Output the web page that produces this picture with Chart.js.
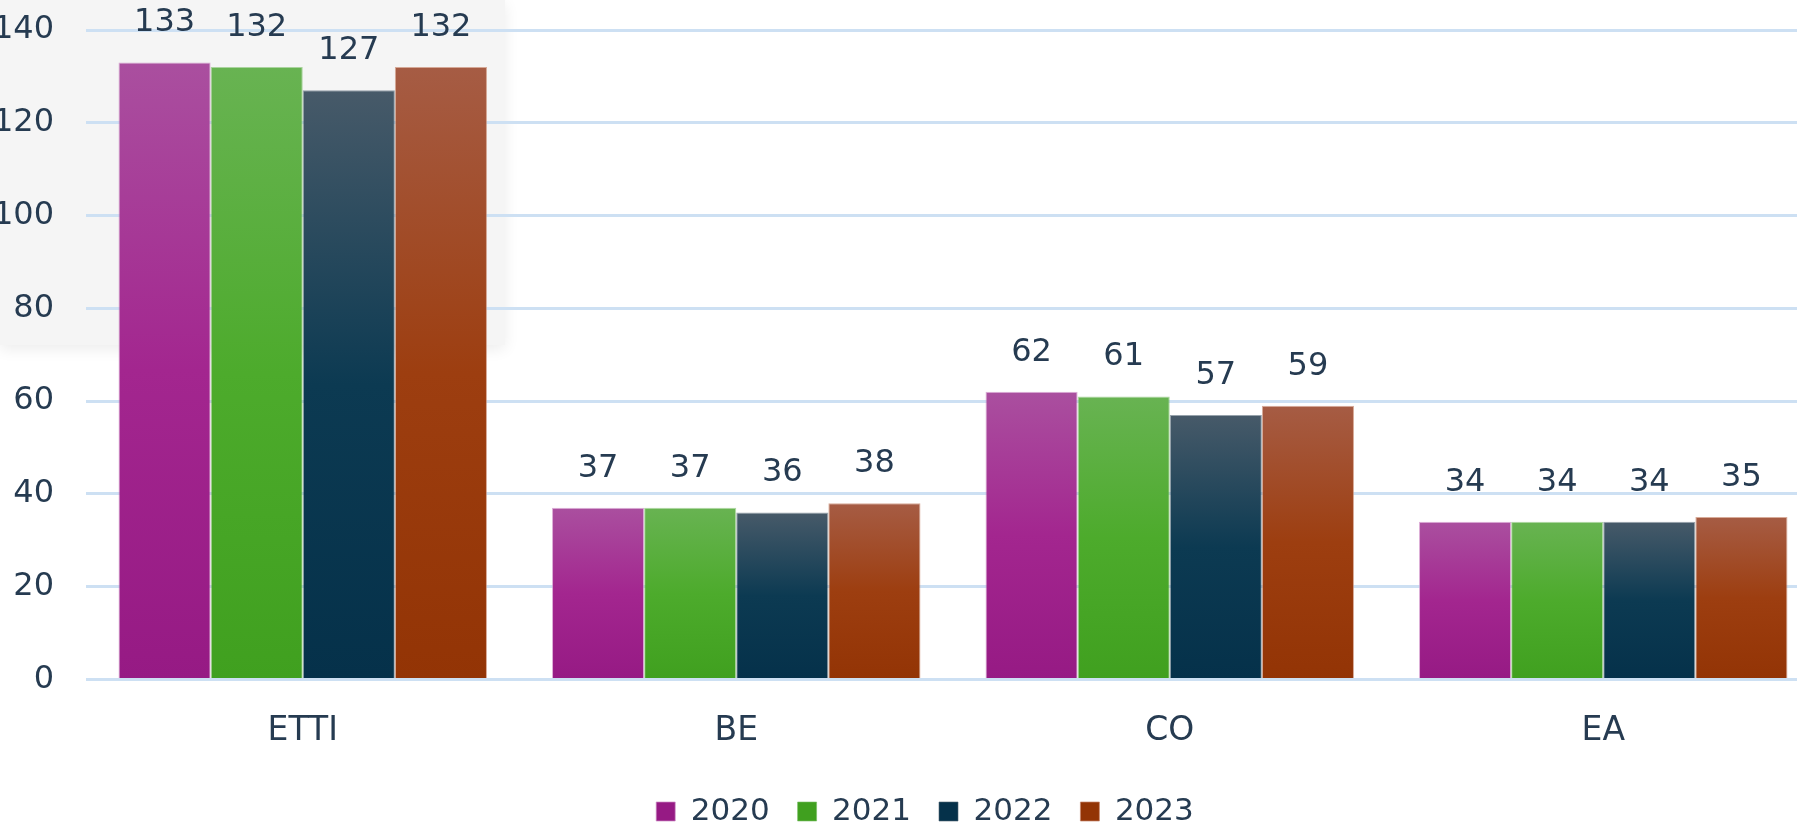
<!DOCTYPE html>
<html>
<head>
<meta charset="utf-8">
<script src="https://cdn.jsdelivr.net/npm/chart.js@4.4.1/dist/chart.umd.min.js"></script>
<style>
  html, body { margin: 0; padding: 0; background: #ffffff; overflow: hidden; width: 1797px; height: 823px; }
  #panel { position: absolute; left: 0; top: 0; width: 505px; height: 345px; background: #f5f5f5; box-shadow: 0 4px 14px rgba(0,0,0,0.08); }
  #wrap { position: absolute; left: 0; top: 0; width: 1850px; height: 837px; }
</style>
</head>
<body>
<div id="panel"></div>
<div id="wrap"><canvas id="c"></canvas></div>
<script>
const categories = ['ETTI', 'BE', 'CO', 'EA'];
const years = ['2020', '2021', '2022', '2023'];
const values2020 = [133, 37, 62, 34];
const values2021 = [132, 37, 61, 34];
const values2022 = [127, 36, 57, 34];
const values2023 = [132, 38, 59, 35];
const yTicks = [0, 20, 40, 60, 80, 100, 120, 140];

const palettes = [
  ['#aa4f9f', '#a3268f', '#961a84'],
  ['#68b352', '#4dab2c', '#40a01f'],
  ['#475a69', '#0c3a52', '#05314a'],
  ['#a65c44', '#9d3e10', '#933405']
];
const borders = ['rgba(205,140,196,0.7)', 'rgba(120,190,100,0.6)', 'rgba(80,100,115,0.6)', 'rgba(200,135,110,0.7)'];

const TEXT = '#263b51';
const FONT = "'DejaVu Sans', Verdana, sans-serif";

function gradFor(idx) {
  return function (context) {
    const pal = palettes[idx];
    const chart = context.chart;
    if (context.type !== 'data' || !chart.chartArea) return pal[1];
    const y = chart.scales.y;
    const top = y.getPixelForValue(context.raw);
    const bot = y.getPixelForValue(0);
    if (!isFinite(top) || !isFinite(bot) || bot - top < 1) return pal[1];
    const g = chart.ctx.createLinearGradient(0, top, 0, bot);
    g.addColorStop(0, pal[0]);
    g.addColorStop(0.5, pal[1]);
    g.addColorStop(1, pal[2]);
    return g;
  };
}

const seriesValues = [values2020, values2021, values2022, values2023];

const valueLabels = {
  id: 'valueLabels',
  afterDatasetsDraw(chart) {
    const ctx = chart.ctx;
    ctx.save();
    ctx.fillStyle = TEXT;
    ctx.font = '32px ' + FONT;
    ctx.textAlign = 'center';
    ctx.textBaseline = 'alphabetic';
    chart.data.datasets.forEach((ds, i) => {
      const meta = chart.getDatasetMeta(i);
      meta.data.forEach((bar, j) => {
        ctx.fillText(String(ds.data[j]), bar.x, bar.y - 31);
      });
    });
    ctx.restore();
  }
};

const legendShift = {
  id: 'legendShift',
  afterLayout(chart) {
    const lg = chart.legend;
    if (lg) { lg.left += 15; lg.right += 15; }
  }
};

new Chart(document.getElementById('c'), {
  type: 'bar',
  data: {
    labels: categories,
    datasets: seriesValues.map((vals, i) => ({
      label: years[i],
      data: vals,
      backgroundColor: gradFor(i),
      borderColor: borders[i],
      borderWidth: 1,
      categoryPercentage: 0.85,
      barPercentage: 1.0
    }))
  },
  options: {
    responsive: true,
    maintainAspectRatio: false,
    animation: false,
    layout: { padding: { top: 30, right: 30, left: 0, bottom: 0 } },
    scales: {
      x: {
        grid: { display: false },
        border: { display: false },
        afterFit(axis) { axis.height -= 7; },
        ticks: { color: TEXT, font: { family: FONT, size: 33 }, padding: 24 }
      },
      y: {
        min: 0,
        max: 140,
        afterBuildTicks(axis) { axis.ticks = yTicks.map(v => ({ value: v })); },
        afterFit(axis) { axis.width = 86; },
        grid: { color: '#cde0f3', lineWidth: 3, drawTicks: true, tickLength: 32, tickColor: 'rgba(0,0,0,0)' },
        border: { display: false },
        ticks: { color: TEXT, font: { family: FONT, size: 32 }, padding: 0 }
      }
    },
    plugins: {
      legend: {
        position: 'bottom',
        labels: {
          color: TEXT,
          font: { family: FONT, size: 31 },
          boxWidth: 19,
          boxHeight: 19,
          padding: 28
        }
      },
      tooltip: { enabled: false }
    }
  },
  plugins: [valueLabels, legendShift]
});
</script>
</body>
</html>
